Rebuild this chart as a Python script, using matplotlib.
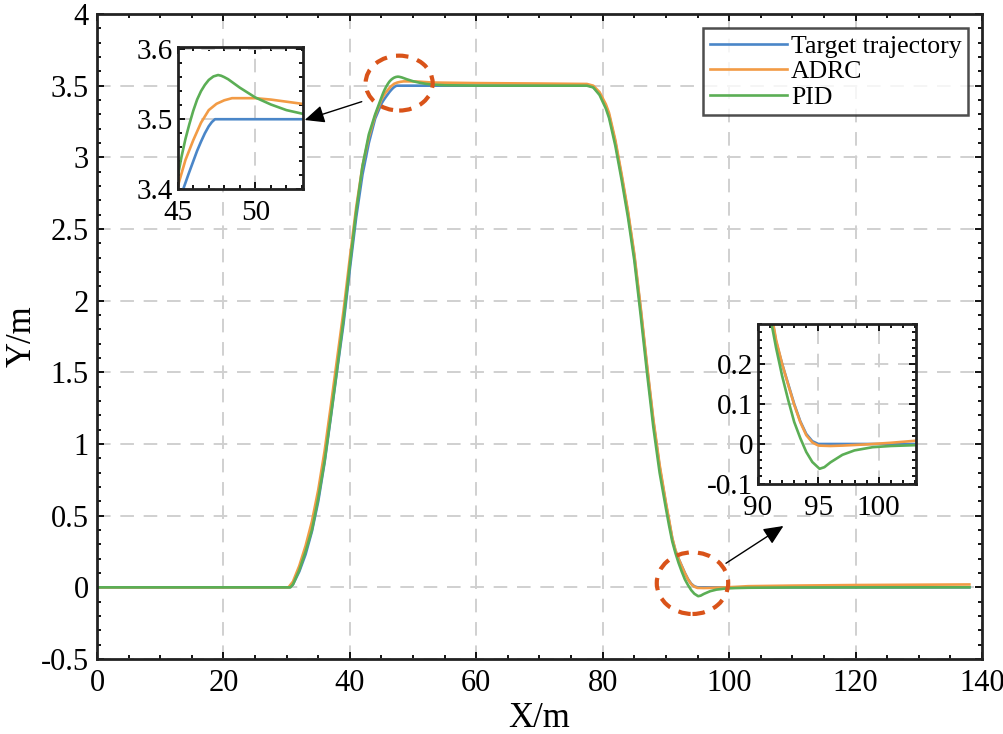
import matplotlib
matplotlib.use("Agg")
import matplotlib.pyplot as plt
from matplotlib.patches import Ellipse, FancyArrowPatch
from matplotlib.ticker import MultipleLocator

plt.rcParams['font.family'] = ['Liberation Serif', 'DejaVu Serif']

# target trajectory
x_ref = [0, 30.5, 31, 32, 33, 34, 35, 36, 37, 38, 39, 40, 41, 42, 43, 44, 45, 45.35, 45.7, 46,
         46.25, 46.5, 46.75, 47, 47.2, 47.4, 60, 77.8, 78.5, 79.5, 80.5, 81, 82, 83, 84, 85, 86,
         87, 88, 89, 90, 90.5, 91, 91.5, 92, 92.5, 93, 93.5, 94, 94.5, 95, 138]
y_ref = [0, 0, 0.02, 0.11, 0.23, 0.39, 0.60, 0.87, 1.19, 1.52, 1.84, 2.22, 2.58, 2.88, 3.10, 3.27,
         3.375, 3.40, 3.422, 3.44, 3.455, 3.468, 3.48, 3.49, 3.496, 3.50, 3.50, 3.50, 3.49, 3.445,
         3.355, 3.295, 3.105, 2.865, 2.61, 2.31, 1.94, 1.54, 1.16, 0.84, 0.58, 0.46, 0.34, 0.255,
         0.20, 0.15, 0.10, 0.057, 0.025, 0.007, 0.0, 0.0]

# ADRC
x_adrc = [0, 30.3, 31, 32, 33, 34, 35, 36, 37, 38, 39, 40, 41, 42, 43, 44, 45, 45.5, 46, 46.5, 47,
          47.5, 48, 48.5, 50, 51, 52, 53, 60, 70, 77.5, 78.5, 79.5, 80.5, 81, 82, 83, 84, 85, 86,
          87, 88, 89, 90, 90.5, 91, 91.5, 92, 92.5, 93, 93.5, 94, 94.5, 95, 96, 97, 99, 101, 103,
          110, 120, 138]
y_adrc = [0, 0, 0.04, 0.15, 0.29, 0.46, 0.68, 0.95, 1.27, 1.60, 1.93, 2.30, 2.65, 2.94, 3.14, 3.29,
          3.404, 3.442, 3.470, 3.495, 3.513, 3.522, 3.527, 3.530, 3.530, 3.528, 3.525, 3.522,
          3.518, 3.515, 3.512, 3.50, 3.455, 3.37, 3.31, 3.12, 2.88, 2.625, 2.325, 1.955, 1.555,
          1.175, 0.855, 0.59, 0.47, 0.345, 0.26, 0.20, 0.148, 0.098, 0.055, 0.022, 0.004, -0.004,
          -0.005, -0.004, -0.001, 0.003, 0.008, 0.012, 0.016, 0.02]

# PID
x_pid = [0, 30.6, 31, 32, 33, 34, 35, 36, 37, 38, 39, 40, 41, 42, 43, 44, 45, 45.25, 45.5, 45.75,
         46, 46.25, 46.5, 46.75, 47, 47.3, 47.6, 47.8, 48, 48.25, 48.5, 49, 50, 51, 52, 53, 55, 60,
         77.5, 78.5, 79.5, 80.5, 81, 82, 83, 84, 85, 86, 87, 88, 89, 90, 90.5, 91, 91.5, 92, 92.5,
         93, 93.5, 94, 94.5, 95.1, 95.5, 96, 97, 98, 99.5, 101, 103, 110, 138]
y_pid = [0, 0, 0.02, 0.12, 0.25, 0.40, 0.62, 0.88, 1.20, 1.53, 1.87, 2.25, 2.62, 2.94, 3.16, 3.30,
         3.418, 3.447, 3.472, 3.493, 3.512, 3.528, 3.540, 3.549, 3.556, 3.561, 3.563, 3.562,
         3.560, 3.557, 3.553, 3.545, 3.531, 3.521, 3.513, 3.508, 3.503, 3.5005, 3.50, 3.488,
         3.435, 3.34, 3.275, 3.08, 2.84, 2.58, 2.28, 1.90, 1.50, 1.12, 0.80, 0.55, 0.43, 0.32,
         0.24, 0.17, 0.11, 0.055, 0.015, -0.02, -0.045, -0.062, -0.058, -0.046, -0.027, -0.016,
         -0.008, -0.005, -0.003, -0.001, 0.0]

names = ['Target trajectory', 'ADRC', 'PID']
colors = ['#4A86C8', '#F29B45', '#5BAE55']
series = [(x_ref, y_ref), (x_adrc, y_adrc), (x_pid, y_pid)]


def style(ax, size):
    ax.tick_params(which='both', direction='in', top=True, right=True, labelsize=size,
                   width=1.3, colors='black')
    ax.tick_params(which='major', length=5)
    ax.tick_params(which='minor', length=3)
    for s in ax.spines.values():
        s.set_linewidth(2)
        s.set_color('#222222')
    ax.grid(True, which='major', linestyle=(0, (7, 5)), color='#d0d0d0', linewidth=1.4)
    ax.set_axisbelow(True)


fig = plt.figure(figsize=(10.04, 7.34), dpi=100)
ax = fig.add_axes([0.0966, 0.1022, 0.8815, 0.8787])
for (xs, ys), c, n in zip(series, colors, names):
    ax.plot(xs, ys, color=c, lw=1.9, label=n)
ax.set_xlim(0, 140)
ax.set_ylim(-0.5, 4)
ax.xaxis.set_major_locator(MultipleLocator(20))
ax.xaxis.set_minor_locator(MultipleLocator(5))
ax.yaxis.set_minor_locator(MultipleLocator(0.1))
ax.set_yticks([-0.5, 0, 0.5, 1, 1.5, 2, 2.5, 3, 3.5, 4])
ax.set_yticklabels(['-0.5', '0', '0.5', '1', '1.5', '2', '2.5', '3', '3.5', '4'])
style(ax, 22)
ax.tick_params(axis='x', pad=7)
ax.tick_params(axis='y', pad=6)
ax.set_xlabel('X/m', fontsize=25, labelpad=3)
ax.set_ylabel('Y/m', fontsize=25)
ax.yaxis.set_label_coords(-0.066, 0.5)

leg = ax.legend(loc='upper right', fontsize=18.5, frameon=True, fancybox=False,
                edgecolor='#222222', handlelength=3.0, handletextpad=0.15,
                borderpad=0.25, labelspacing=0.1, borderaxespad=0.55)
leg.get_frame().set_linewidth(1.8)

# dashed ellipses
ax.add_patch(Ellipse((47.8, 3.518), 10.6, 0.383, fill=False, ec='#D95319', lw=3,
                     ls=(0, (3, 2.2)), zorder=5))
ax.add_patch(Ellipse((94.2, 0.029), 11.3, 0.43, fill=False, ec='#D95319', lw=3,
                     ls=(0, (3, 2.2)), zorder=5))

# inset 1
ax1 = fig.add_axes([0.177, 0.742, 0.1245, 0.194])
for (xs, ys), c in zip(series, colors):
    ax1.plot(xs, ys, color=c, lw=1.9)
ax1.set_xlim(45, 53.05)
ax1.set_ylim(3.4, 3.603)
ax1.set_xticks([45, 50])
ax1.set_yticks([3.4, 3.5, 3.6])
ax1.set_yticklabels(['3.4', '3.5', '3.6'])
ax1.xaxis.set_minor_locator(MultipleLocator(1))
ax1.yaxis.set_minor_locator(MultipleLocator(0.02))
style(ax1, 21)
ax1.tick_params(axis='x', pad=8)

# inset 2
ax2 = fig.add_axes([0.755, 0.3406, 0.1574, 0.218])
for (xs, ys), c in zip(series, colors):
    ax2.plot(xs, ys, color=c, lw=1.9)
ax2.set_xlim(90, 103.1)
ax2.set_ylim(-0.1, 0.3)
ax2.set_xticks([90, 95, 100])
ax2.set_yticks([-0.1, 0, 0.1, 0.2])
ax2.set_yticklabels(['-0.1', '0', '0.1', '0.2'])
ax2.xaxis.set_minor_locator(MultipleLocator(1))
ax2.yaxis.set_minor_locator(MultipleLocator(0.02))
style(ax2, 21)
ax2.tick_params(axis='x', pad=8)

# arrows drawn on top of everything
for tail, tip in [((0.3603, 0.8615), (0.3035, 0.8365)), ((0.7231, 0.2326), (0.7803, 0.2834))]:
    fig.add_artist(FancyArrowPatch(tail, tip, transform=fig.transFigure,
                                   arrowstyle='-|>,head_length=10,head_width=4.5',
                                   color='black', lw=1, shrinkA=0, shrinkB=0,
                                   mutation_scale=1.2, zorder=10))

fig.savefig('out.png', dpi=100)
